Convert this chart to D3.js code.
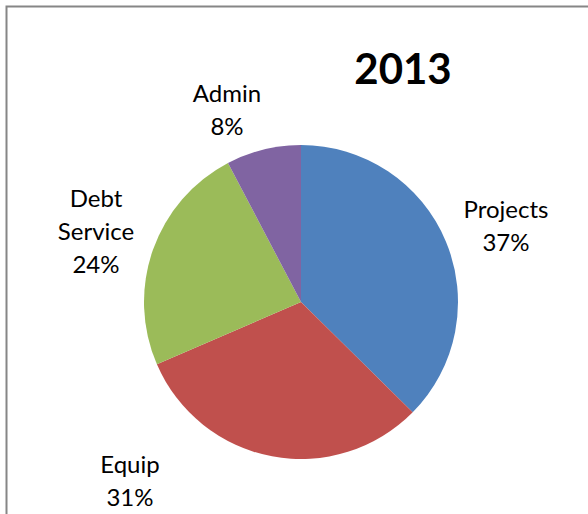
<!DOCTYPE html>
<html>
<head>
<meta charset="utf-8">
<script src="https://cdn.jsdelivr.net/npm/d3@7"></script>
<style>
  body { margin: 0; background: #fff; }
  text { font-family: Lato, "Open Sans", sans-serif; fill: #000; }
</style>
</head>
<body>
<script>
// slice data, clockwise from 12 o'clock
const categories = ['Projects', 'Equip', 'Debt Service', 'Admin']
const values = [37.4, 31.1, 23.8, 7.7]
const labels = [['Projects', '37%'], ['Equip', '31%'], ['Debt', 'Service', '24%'], ['Admin', '8%']]
const colors = ['#4F81BD', '#C0504D', '#9BBB59', '#8064A2']

// where excel put each label (centre x, first baseline y)
const labelPos = [[506, 218], [130, 473], [96, 207], [227, 102]]

const m = { width: 588, height: 514 }
const cx = 301, cy = 302, r = 157

const svg = d3.select('body').append('svg')
    .attr('width', m.width)
    .attr('height', m.height)

// chart frame (runs off the right/bottom of the picture)
svg.append('rect')
    .attr('x', 6.5)
    .attr('y', 6.5)
    .attr('width', 600)
    .attr('height', 540)
    .attr('fill', 'none')
    .attr('stroke', '#868686')
    .attr('stroke-width', 2)

svg.append('text')
    .attr('x', 403)
    .attr('y', 84)
    .attr('text-anchor', 'middle')
    .attr('font-size', '42px')
    .attr('font-weight', 'bold')
    .text('2013')

const pie = d3.pie().sort(null).value(d => d)
const arc = d3.arc().innerRadius(0).outerRadius(r)

const g = svg.append('g')
    .attr('transform', `translate(${cx},${cy})`)

g.selectAll('path')
    .data(pie(values))
    .enter()
    .append('path')
        .attr('d', arc)
        .attr('fill', (d, i) => colors[i])

const lab = svg.selectAll('.lab')
    .data(labels)
    .enter()
    .append('text')
        .attr('class', 'lab')
        .attr('text-anchor', 'middle')
        .attr('font-size', '24px')

lab.selectAll('tspan')
    .data((d, i) => d.map(t => ({ t: t, i: i })))
    .enter()
    .append('tspan')
        .attr('x', d => labelPos[d.i][0])
        .attr('y', (d, j) => labelPos[d.i][1] + j * 33)
        .text(d => d.t)
</script>
</body>
</html>
